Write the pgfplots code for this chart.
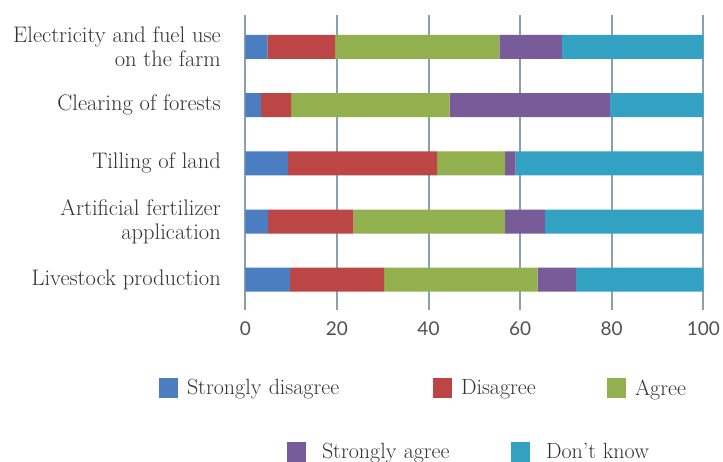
\documentclass[border=0pt]{standalone}
\usepackage{fontspec}
\usepackage{pgfplots}
\pgfplotsset{compat=1.18}
\newfontfamily\tickfont{Lato}
\definecolor{cSD}{RGB}{74,126,193}
\definecolor{cD}{RGB}{188,69,69}
\definecolor{cA}{RGB}{147,176,78}
\definecolor{cSA}{RGB}{120,91,153}
\definecolor{cDK}{RGB}{51,162,194}
\definecolor{gridc}{RGB}{138,160,175}
\definecolor{txt}{RGB}{50,50,50}
\pgfplotsset{
  sqlegend/.style={
    hide axis, scale only axis, width=1pt, height=20pt,
    xmin=0, xmax=1, ymin=0, ymax=1,
    legend style={at={(0,0.5)}, anchor=west, draw=none, fill=none,
      inner sep=0pt, outer sep=0pt,
      nodes={inner sep=0pt, anchor=west, text=txt, font=\fontsize{22}{26}\selectfont}},
    legend image code/.code={\fill[##1, draw=none] (0pt,-10pt) rectangle (19pt,10pt);},
  },
}
\begin{document}
\begin{tikzpicture}
\useasboundingbox (0,0) rectangle (723pt,462pt);
\begin{axis}[
  at={(245.3pt,152pt)}, anchor=south west,
  scale only axis, width=458pt, height=295pt,
  xbar stacked, bar width=24pt,
  xmin=0, xmax=100, ymin=-0.52, ymax=4.55,
  xtick={0,20,...,100}, ytick={0,1,2,3,4},
  yticklabels={Livestock production, {Artificial fertilizer\\application}, Tilling of land, Clearing of forests, {Electricity and fuel use\\on the farm}},
  yticklabel style={align=right, text=txt, font=\fontsize{22.5}{24}\selectfont, xshift=-21pt},
  xticklabel style={text=txt!85, font=\tickfont\fontsize{19}{23}\selectfont, yshift=-8pt},
  /pgf/number format/assume math mode=true,
  xmajorgrids, grid style={line width=2pt, color=gridc},
  axis line style={draw=none}, major tick length=0pt,
  every axis plot/.append style={draw=none},
]
\addplot[fill=cSD] coordinates {(9.8,0) (5.0,1) (9.3,2) (3.4,3) (4.8,4)};
\addplot[fill=cD] coordinates {(20.5,0) (18.6,1) (32.6,2) (6.6,3) (14.8,4)};
\addplot[fill=cA] coordinates {(33.5,0) (33.1,1) (14.8,2) (34.6,3) (35.9,4)};
\addplot[fill=cSA] coordinates {(8.4,0) (8.7,1) (2.3,2) (35.0,3) (13.6,4)};
\addplot[fill=cDK] coordinates {(27.8,0) (34.6,1) (41.0,2) (20.4,3) (30.9,4)};
\end{axis}
% legend row 1
\begin{axis}[sqlegend, at={(159pt,64pt)}, anchor=south west,
  legend columns=3, legend style={column sep=9pt}]
\addlegendimage{fill=cSD, draw=none}
\addlegendentry[text width=237pt, align=left]{Strongly disagree}
\addlegendimage{fill=cD, draw=none}
\addlegendentry[text width=137pt, align=left]{Disagree}
\addlegendimage{fill=cA, draw=none}
\addlegendentry[align=left]{Agree}
\end{axis}
% legend row 2
\begin{axis}[sqlegend, at={(287pt,0pt)}, anchor=south west,
  legend columns=2, legend style={column sep=16pt}]
\addlegendimage{fill=cSA, draw=none}
\addlegendentry[text width=173pt, align=left]{Strongly agree}
\addlegendimage{fill=cDK, draw=none}
\addlegendentry[align=left]{Don’t know}
\end{axis}
\end{tikzpicture}
\end{document}
